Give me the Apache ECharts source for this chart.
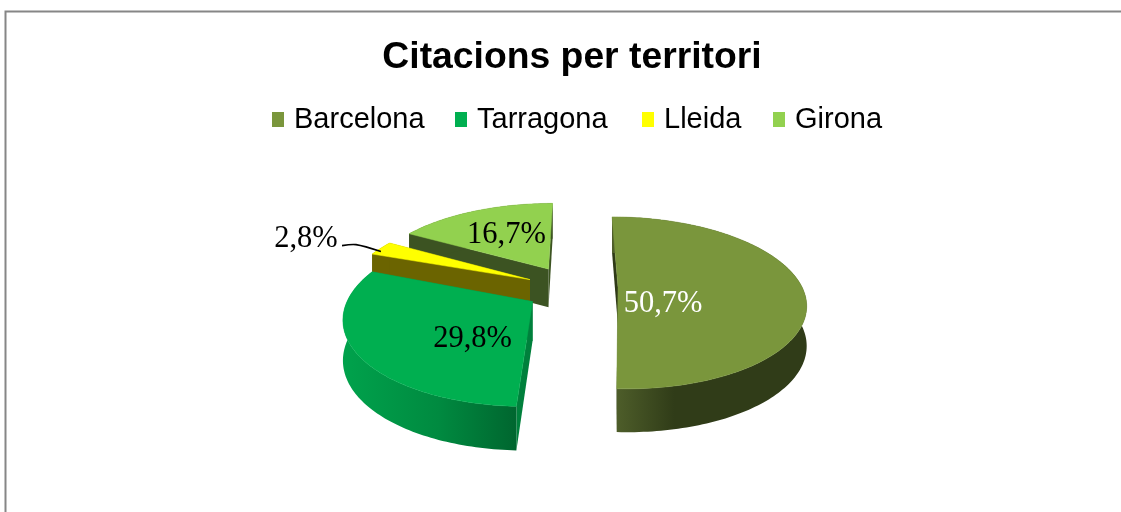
<!DOCTYPE html>
<html>
<head>
<meta charset="utf-8">
<style>html,body{margin:0;padding:0;background:#fff}#c{width:1121px;height:512px}</style>
<script src="https://cdn.jsdelivr.net/npm/echarts@6/dist/echarts.min.js"></script>
</head>
<body>
<div id="c"></div>
<script>
const categories = ['Barcelona', 'Tarragona', 'Lleida', 'Girona'];
const values = [50.7, 29.8, 2.8, 16.7];
const valueLabels = ['50,7%', '29,8%', '2,8%', '16,7%'];
const topColors = ['#7A963C', '#00AF50', '#FFFF00', '#92D14F'];
const labelColors = ['#ffffff', '#000000', '#000000', '#000000'];
const drawOrder = [3, 2, 0, 1];

// view of the tilted, exploded pie
const view = {cx: 570, cy: 288, vx: 576, horizon: -175, D: 1026, R: 184, explode: 45, drop: 39, dropGrow: 20};
const H = view.cy - view.horizon;
const sliceNudge = [[3, -1], [5, 0], [0, 0], [0, -2]];
const apexShift = [[0, 0], [-4, 2], [0, 0], [0, 0]];
const legendLeft = [267, 450, 637, 768];

const wallFills = [
  () => new echarts.graphic.LinearGradient(0, 0, 1, 0, [{offset: 0, color: '#50602B'}, {offset: .32, color: '#303C18'}, {offset: 1, color: '#303C18'}]),
  () => new echarts.graphic.LinearGradient(0, 0, 1, 0, [{offset: 0, color: '#00A24C'}, {offset: .55, color: '#008A40'}, {offset: 1, color: '#00662F'}]),
  () => '#6B6400',
  () => '#3C5322'
];
const cutFills = ['#2F3A17', '#00803C', '#6B6400', '#3C5322'];
const labelOffsets = [[45, 17], [-60, 37], [-224, -41], [-42, -34]];

function project(X, Z, isBottom, nudge) {
  const s = view.D / (view.D - Z);
  const down = isBottom ? view.drop + (s - 1) * view.dropGrow : 0;
  return [view.vx + (X + view.cx - view.vx) * s + nudge[0], view.horizon + H * s + down + nudge[1]];
}
const total = values.reduce((a, b) => a + b, 0);
function angles(i) {
  const before = values.slice(0, i).reduce((a, b) => a + b, 0);
  return [before / total * 2 * Math.PI, (before + values[i]) / total * 2 * Math.PI];
}

function renderSlice(i) {
  const [a0, a1] = angles(i);
  const mid = (a0 + a1) / 2;
  const ox = Math.sin(mid) * view.explode, oz = -Math.cos(mid) * view.explode;
  const pt = (a, r, b) => project(ox + Math.sin(a) * r, oz - Math.cos(a) * r, b, sliceNudge[i]);
  const steps = Math.max(4, Math.ceil((a1 - a0) / 0.02));
  const arcTop = [], arcBot = [];
  for (let k = 0; k <= steps; k++) {
    const a = a0 + (a1 - a0) * k / steps;
    arcTop.push(pt(a, view.R, false));
    arcBot.push(pt(a, view.R, true));
  }
  const shift = p => [p[0] + apexShift[i][0], p[1] + apexShift[i][1]];
  const apex = shift(pt(0, 0, false)), apexB = shift(pt(0, 0, true));
  const face = (a, fill) => ({type: 'polygon', shape: {points: [apex, pt(a, view.R, false), pt(a, view.R, true), apexB]}, style: {fill: fill}, silent: true});
  const children = [
    face(a0, cutFills[i]),
    face(a1, cutFills[i]),
    {type: 'polygon', shape: {points: arcTop.concat(arcBot.slice().reverse())}, style: {fill: wallFills[i]()}, silent: true},
    {type: 'polygon', shape: {points: [apex].concat(arcTop)}, style: {fill: topColors[i], stroke: topColors[i], lineWidth: .5}, silent: true}
  ];
  const lx = apex[0] + labelOffsets[i][0], ly = apex[1] + labelOffsets[i][1];
  if (i === 2) {
    const tip = pt(mid, view.R * .99, false);
    children.push({type: 'polyline', shape: {points: [[lx + 36, ly + 7], [lx + 50, ly + 6], [tip[0] - 1, tip[1] + 3]], smooth: .3}, style: {stroke: '#000', lineWidth: 1.6, fill: null}, silent: true});
  }
  children.push({type: 'text', x: lx, y: ly, style: {text: valueLabels[i], fill: labelColors[i], font: '30.5px "Liberation Serif", serif', textAlign: 'center', textVerticalAlign: 'middle'}, silent: true});
  return {type: 'group', children: children};
}

const chart = echarts.init(document.getElementById('c'), null, {renderer: 'canvas'});
chart.setOption({
  animation: false,
  backgroundColor: '#fff',
  title: {
    text: 'Citacions per territori', left: 567, top: 34, textAlign: 'center',
    textStyle: {fontFamily: '"Liberation Sans", Arial, sans-serif', fontWeight: 'bold', fontSize: 37.3, color: '#000'}
  },
  legend: categories.map((c, i) => ({
    data: [c], left: legendLeft[i], top: 100, itemWidth: 12, itemHeight: 15, icon: 'rect', selectedMode: false,
    textStyle: {fontFamily: '"Liberation Sans", Arial, sans-serif', fontSize: 29, color: '#000', padding: [0, 0, 0, 5]}
  })),
  graphic: [{type: 'rect', shape: {x: 5.5, y: 11.5, width: 1300, height: 700}, style: {fill: null, stroke: '#868686', lineWidth: 2}, silent: true, z: 0}],
  series: drawOrder.map((i, n) => ({
    type: 'custom', name: categories[i], coordinateSystem: 'none', z: 2 + n,
    itemStyle: {color: topColors[i]}, data: [values[i]], silent: true,
    renderItem: () => renderSlice(i)
  }))
});
</script>
</body>
</html>
